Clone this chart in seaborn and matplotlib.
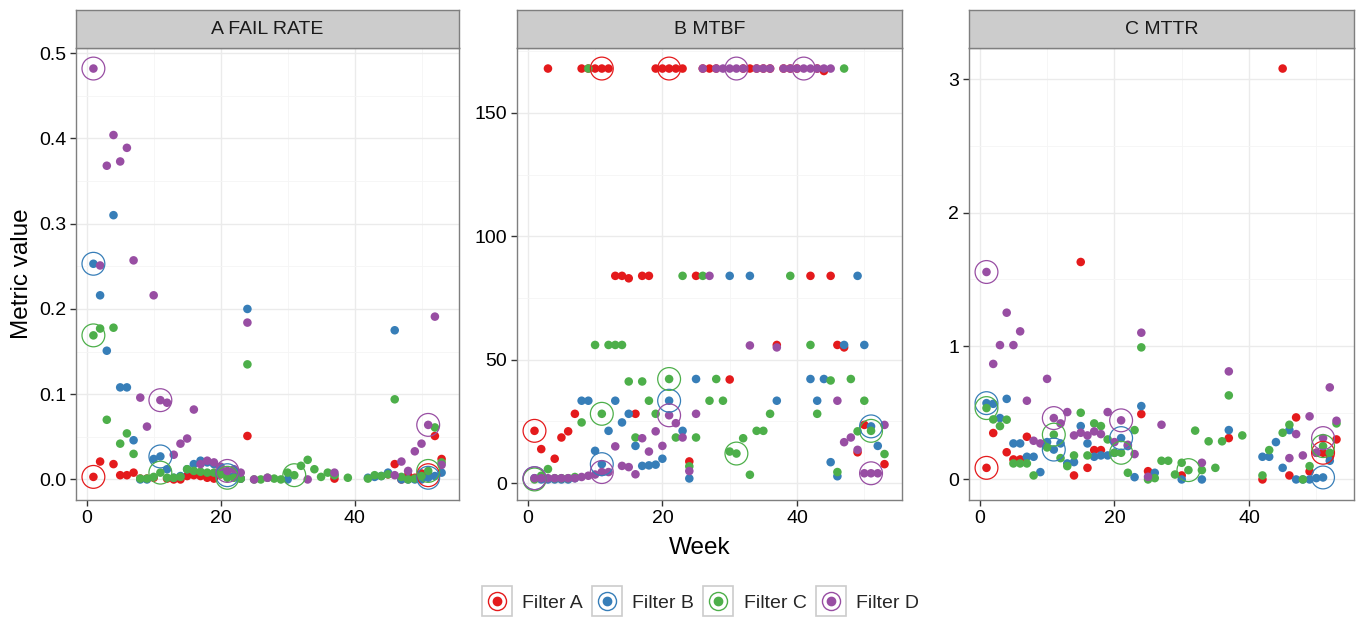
import numpy as np
import pandas as pd
import matplotlib
matplotlib.use("Agg")
import matplotlib.pyplot as plt
import seaborn as sns
from matplotlib.lines import Line2D
from matplotlib.legend_handler import HandlerTuple

nan = np.nan
weeks = list(range(1, 54))
filters = ["Filter A", "Filter B", "Filter C", "Filter D"]
panels = ["A FAIL RATE", "B MTBF", "C MTTR"]
circled_weeks = [1, 11, 21, 31, 41, 51]
colors = ["#E41A1C", "#377EB8", "#4DAF4A", "#984EA3"]

# ---- Panel A: FAIL RATE (weeks 1..53) ----
fail_a = [0.003, 0.021, nan, 0.018, 0.005, 0.005, 0.008, 0.001, 0.001, 0.002,
          nan, 0.001, 0.0, 0.0, 0.004, 0.005, 0.004, 0.002, 0.001, 0.006,
          nan, 0.004, 0.001, 0.051, nan, nan, nan, nan, nan, nan,
          nan, nan, nan, nan, nan, nan, 0.001, nan, nan, nan,
          nan, nan, nan, nan, 0.006, 0.018, 0.0, 0.005, 0.002, 0.007,
          0.005, 0.051, 0.024]
fail_b = [0.253, 0.216, 0.151, 0.310, 0.108, 0.108, 0.046, 0.0, 0.0, 0.024,
          0.027, 0.012, 0.002, 0.004, 0.012, 0.018, 0.022, 0.020, 0.018, 0.010,
          0.005, 0.004, 0.001, 0.200, nan, nan, nan, nan, nan, 0.0,
          nan, nan, nan, nan, nan, nan, 0.005, nan, nan, nan,
          nan, 0.002, 0.003, 0.004, 0.008, 0.175, 0.0, 0.0, 0.0, 0.0,
          0.002, 0.004, 0.008]
fail_c = [0.169, 0.177, 0.070, 0.178, 0.042, 0.054, 0.030, 0.001, 0.001, 0.003,
          0.008, 0.002, 0.002, 0.003, 0.012, 0.010, 0.009, 0.008, 0.008, 0.006,
          0.002, 0.002, 0.001, 0.135, 0.0, 0.0, 0.002, 0.001, 0.0, 0.008,
          0.005, 0.016, 0.023, 0.012, 0.003, 0.008, 0.005, nan, 0.002, nan,
          nan, 0.001, 0.005, 0.004, 0.006, 0.094, 0.003, 0.0, 0.001, 0.004,
          0.010, 0.061, 0.020]
fail_d = [0.482, 0.251, 0.368, 0.404, 0.373, 0.389, 0.257, 0.096, 0.062, 0.216,
          0.093, 0.090, 0.029, 0.042, 0.048, 0.082, 0.018, 0.022, 0.020, 0.015,
          0.010, 0.012, 0.008, 0.184, 0.0, nan, 0.002, nan, nan, nan,
          nan, nan, 0.0, nan, nan, nan, 0.008, nan, nan, nan,
          nan, nan, nan, nan, nan, 0.005, 0.021, 0.010, 0.033, 0.042,
          0.064, 0.191, 0.017]

# ---- Panel B: MTBF ----
mtbf_a = [21.2, 13.8, 168, 9.9, 18.5, 21.0, 28.1, 168, 168, 168,
          168, 168, 84, 84, 83, 28.1, 84, 84, 168, 168,
          168, 168, 168, 8.8, 84, 168, 168, 168, nan, 42,
          nan, 168, 168, 168, 168, 168, 56, 168, 168, 168,
          nan, 84, 168, 167, 84, 56, 55, nan, 12.5, 23.6,
          nan, nan, 7.7]
mtbf_b = [2.0, 1.5, 1.5, 1.5, 1.5, 1.5, 2.0, 33.4, 33.4, 13.1,
          7.7, 21.2, 33.4, 24.6, 28.1, 15.1, 7.0, 7.2, 7.5, 9.9,
          33.4, nan, 21.2, 1.9, 42.2, nan, nan, nan, nan, 84,
          nan, nan, 84, nan, nan, nan, 33.4, nan, nan, nan,
          nan, 42.2, 33.4, 42.2, 8.5, 2.8, 56, nan, 84, 56,
          23.0, 15.1, nan]
mtbf_c = [1.5, 3.0, 5.7, 2.0, 2.0, 2.0, 2.5, 24.6, 168, 56,
          28.1, 56, 56, 56, 41.2, 18.5, 41.2, 33.4, 28.1, nan,
          42.2, 18.5, 84, 6.8, 18.5, 84, 33.4, 42.2, 33.4, 12.8,
          12.0, 18.2, 3.4, 21.2, 21.2, 28.1, nan, nan, 84, nan,
          nan, 56, 28.1, nan, 41.6, 4.5, 168, 42.2, 21.0, 33.4,
          21.2, nan, 11.8]
mtbf_d = [2.0, 2.0, 2.0, 2.0, 2.0, 2.0, 2.0, 2.5, 3.0, 3.5,
          4.5, 4.5, 14.9, 7.0, 6.5, 3.6, 18.2, 12.8, 21.0, 15.1,
          27.5, 24.3, 18.5, 4.9, 28.1, 168, 84, 168, 168, 168,
          168, 168, 55.8, 168, 168, 168, 55, 168, 168, 168,
          168, 168, 168, 168, 168, 33.4, 16.6, 18.5, 13.5, 4.0,
          4.0, 4.0, 23.6]

# ---- Panel C: MTTR ----
mttr_a = [0.087, 0.348, nan, 0.204, 0.15, 0.15, 0.32, nan, nan, nan,
          nan, nan, nan, 0.03, 1.63, 0.087, 0.22, 0.22, nan, nan,
          nan, nan, nan, 0.49, 0.062, nan, nan, nan, nan, 0.03,
          nan, nan, nan, nan, nan, nan, 0.31, nan, nan, nan,
          nan, 0.0, nan, nan, 3.08, 0.03, 0.465, nan, 0.06, 0.2,
          0.20, 0.17, 0.30]
mttr_b = [0.572, 0.567, 0.46, 0.604, 0.27, 0.27, 0.17, 0.17, 0.055, 0.28,
          0.224, 0.27, 0.12, 0.13, 0.40, 0.27, 0.17, 0.18, 0.18, 0.2,
          0.31, 0.25, 0.017, 0.55, nan, 0.05, nan, nan, nan, 0.0,
          nan, nan, 0.0, nan, nan, nan, 0.37, nan, nan, nan,
          nan, 0.17, 0.17, 0.28, 0.087, 0.37, 0.0, 0.0, 0.0, 0.01,
          0.015, 0.14, nan]
mttr_c = [0.535, 0.45, 0.40, 0.448, 0.12, 0.12, 0.12, 0.03, nan, 0.24,
          0.336, 0.16, 0.10, 0.18, 0.50, 0.18, 0.42, 0.40, 0.30, 0.20,
          0.20, 0.05, 0.37, 0.99, 0.0, 0.01, 0.14, 0.14, 0.037, 0.125,
          0.07, 0.366, 0.07, 0.286, 0.087, 0.286, 0.63, nan, 0.33, nan,
          nan, 0.03, 0.22, nan, 0.35, 0.41, nan, 0.0, 0.10, nan,
          0.25, 0.20, 0.42]
mttr_d = [1.555, 0.866, 1.007, 1.25, 1.007, 1.11, 0.59, 0.29, 0.27, 0.754,
          0.46, 0.42, 0.505, 0.33, 0.35, 0.33, 0.36, 0.34, 0.505, 0.28,
          0.443, 0.26, 0.19, 1.10, 0.02, nan, 0.41, nan, nan, nan,
          nan, nan, 0.125, nan, nan, nan, 0.81, nan, nan, nan,
          nan, nan, nan, nan, nan, 0.16, 0.34, 0.18, 0.473, 0.2,
          0.31, 0.69, 0.44]

panel_series = {
    "A FAIL RATE": [fail_a, fail_b, fail_c, fail_d],
    "B MTBF": [mtbf_a, mtbf_b, mtbf_c, mtbf_d],
    "C MTTR": [mttr_a, mttr_b, mttr_c, mttr_d],
}
yticks = {
    "A FAIL RATE": ([0.0, 0.1, 0.2, 0.3, 0.4, 0.5], ["0.0", "0.1", "0.2", "0.3", "0.4", "0.5"],
                    [0.05, 0.15, 0.25, 0.35, 0.45]),
    "B MTBF": ([0, 50, 100, 150], ["0", "50", "100", "150"], [25, 75, 125, 175]),
    "C MTTR": ([0, 1, 2, 3], ["0", "1", "2", "3"], [0.5, 1.5, 2.5]),
}

rows = []
for p in panels:
    for f, vals in zip(filters, panel_series[p]):
        for w, v in zip(weeks, vals):
            rows.append((p, f, w, v))
df = pd.DataFrame(rows, columns=["Panel", "Filter", "Week", "Value"]).dropna()

sns.set_theme(style="white")
plt.rcParams["font.family"] = ["Liberation Sans", "DejaVu Sans"]
palette = dict(zip(filters, colors))

W, H = 1360, 622
fig = plt.figure(figsize=(W / 100, H / 100), dpi=100)
lefts = [76, 517, 969]
rights = [459, 902, 1354]
top, bottom, strip_top = 48, 500, 10

for i, p in enumerate(panels):
    l, r = lefts[i], rights[i]
    ax = fig.add_axes([l / W, 1 - bottom / H, (r - l) / W, (bottom - top) / H])
    sub = df[df.Panel == p]
    sns.scatterplot(data=sub, x="Week", y="Value", hue="Filter", hue_order=filters,
                    palette=palette, s=38, linewidth=0, ax=ax, legend=False, zorder=3)
    ring = sub[sub.Week.isin(circled_weeks)]
    sns.scatterplot(data=ring, x="Week", y="Value", hue="Filter", hue_order=filters,
                    palette=palette, s=270, linewidth=0.9, ax=ax, legend=False, zorder=4)
    coll = ax.collections[-1]
    coll.set_edgecolors(coll.get_facecolors())
    coll.set_facecolors("none")

    ax.margins(x=0.05, y=0.05)
    ax.set_xticks([0, 20, 40])
    ax.set_xticks([10, 30, 50], minor=True)
    ticks, labels, minors = yticks[p]
    ax.set_yticks(ticks)
    ax.set_yticklabels(labels)
    ax.set_yticks(minors, minor=True)
    ax.set_xlim(-1.6, 55.6)
    ax.grid(which="major", color="#EBEBEB", lw=1.0)
    ax.grid(which="minor", color="#F5F5F5", lw=0.6)
    ax.set_axisbelow(True)
    ax.set_xlabel("")
    ax.set_ylabel("")
    ax.tick_params(which="major", direction="out", length=4, width=1, color="#333333",
                   labelsize=14, labelcolor="black", pad=3, left=True, bottom=True)
    ax.tick_params(which="minor", length=0)
    for sp in ax.spines.values():
        sp.set_color("#7F7F7F")
        sp.set_linewidth(1.0)

    sax = fig.add_axes([l / W, 1 - top / H, (r - l) / W, (top - strip_top) / H])
    sax.set_facecolor("#CCCCCC")
    sax.set_xticks([])
    sax.set_yticks([])
    for sp in sax.spines.values():
        sp.set_color("#7F7F7F")
        sp.set_linewidth(1.0)
    sax.text(0.5, 0.48, p, ha="center", va="center", fontsize=14, color="#1A1A1A",
             transform=sax.transAxes)

fig.text(22 / W, 1 - 274 / H, "Metric value", rotation=90, ha="center", va="center",
         fontsize=17.5, color="black")
fig.text(700 / W, 1 - 548 / H, "Week", ha="center", va="center", fontsize=17.5, color="black")

handles = []
for c in colors:
    box = Line2D([], [], marker="s", ms=22, mfc="none", mec="#CCCCCC", mew=1.2, ls="")
    ringh = Line2D([], [], marker="o", ms=13, mfc="none", mec=c, mew=1.0, ls="")
    dot = Line2D([], [], marker="o", ms=6, mfc=c, mec=c, ls="")
    handles.append((box, ringh, dot))
fig.legend(handles, filters, handler_map={tuple: HandlerTuple(ndivide=1, pad=0)},
           loc="center", bbox_to_anchor=(700 / W, 1 - 603 / H), ncol=4, frameon=False,
           fontsize=14, handlelength=1.6, handletextpad=0.5, columnspacing=0.45,
           borderpad=0)

fig.savefig("out.png", dpi=100)
